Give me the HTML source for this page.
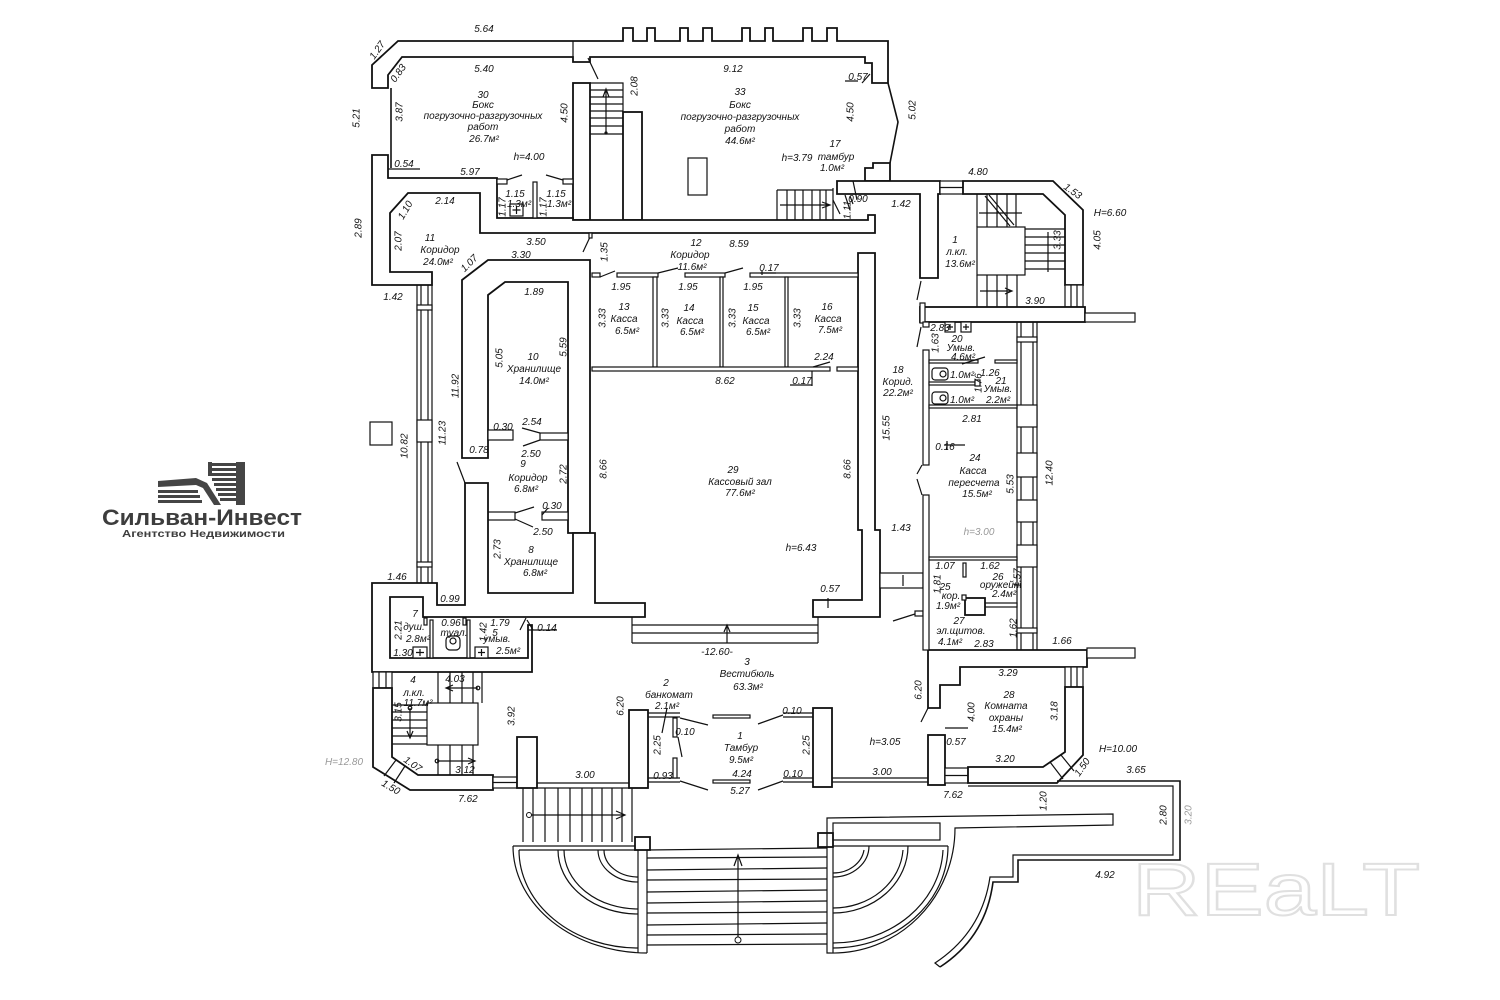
<!DOCTYPE html>
<html><head><meta charset="utf-8"><style>
html,body{margin:0;padding:0;background:#fff;}
svg{display:block}
.w{fill:#fff;stroke:#111;stroke-width:1.8;stroke-linejoin:miter}
.t{fill:#fff;stroke:#111;stroke-width:1.2}
.l{fill:none;stroke:#111;stroke-width:1.2}
.l2{fill:none;stroke:#111;stroke-width:1.6}
text{font-family:"Liberation Sans","DejaVu Sans",sans-serif;font-style:italic;font-size:10px;fill:#111;text-anchor:middle}
text.g{fill:#999}
</style></head><body>
<svg width="1500" height="1000" viewBox="0 0 1500 1000">
<rect width="1500" height="1000" fill="#fff"/>

<!-- ===== TOP WALL ===== -->
<path class="w" d="M372,65 L398,41 L623,41 L623,28 L633,28 L633,41 L647,41 L647,28 L655,28 L655,41 L680,41 L680,28 L688,28 L688,41 L703,41 L703,28 L712,28 L712,41 L742,41 L742,28 L750,28 L750,41 L765,41 L765,28 L773,28 L773,41 L803,41 L803,28 L812,28 L812,41 L827,41 L827,28 L837,28 L837,41 L888,41 L888,83 L872,83 L872,63 L865,63 L865,57 L590,57 L590,62 L573,62 L573,57 L402,57 L388,75 L388,88 L372,88 Z"/>
<line class="l" x1="573" y1="41" x2="573" y2="57"/>
<line class="l" x1="588" y1="58" x2="598" y2="79"/>
<line class="l2" x1="391" y1="88" x2="391" y2="168"/>
<line class="l" x1="382" y1="169" x2="420" y2="169"/>

<!-- room30/33 divider + stair -->
<rect class="w" x="573" y="83" width="17" height="137"/>
<rect class="w" x="623" y="112" width="19" height="108"/>
<path class="l" d="M590,83 L623,83 L623,112 M590,90 L623,90 M590,97 L623,97 M590,104 L623,104 M590,111 L623,111 M590,118 L623,118 M590,126 L623,126 M590,134 L623,134"/>
<path class="l" d="M606,133 L606,90 M603,97 L606,89 L609,97"/>
<circle cx="606" cy="133" r="1.6" fill="#111"/>

<!-- big L wall -->
<path class="w" d="M372,155 L388,155 L388,178 L497,178 L497,218 L573,218 L573,220 L868,220 L868,215 L875,215 L875,233 L480,233 L480,193 L408,193 L390,213 L390,272 L432,272 L432,285 L372,285 Z"/>
<rect class="t" x="533" y="182" width="4" height="36"/>
<rect class="t" x="497" y="179" width="10" height="5"/>
<rect class="t" x="563" y="179" width="10" height="5"/>
<path class="l" d="M507,180 L522,175 M563,180 L546,175"/>
<rect class="t" x="510" y="204" width="13" height="12"/>
<path class="l" d="M516.5,206 L516.5,214 M512.5,210 L520.5,210"/>

<!-- room 33 items -->
<rect class="t" x="688" y="158" width="19" height="37"/>
<path class="l" d="M777,190 L833,190 M777,190 L777,220 M787,190 L787,220 M795,190 L795,220 M803,190 L803,220 M812,190 L812,220 M820,190 L820,220 M826,190 L826,220 M833,188 L833,220 M780,205 L830,205 M822,202 L830,205 L822,208"/>
<path class="l" d="M833,200 L840,214 M845,195 L850,210"/>
<path class="w" d="M865,181 L865,168 L873,168 L873,163 L890,163 L890,181 Z"/>
<path class="l2" d="M888,83 L898,122 L890,163"/>
<path class="l" d="M858,81 L845,81 M862,83 L870,74"/>
<path class="w" d="M837,181 L940,181 L940,194 L938,194 L938,278 L920,278 L920,194 L837,194 Z"/>
<rect class="t" x="940" y="181" width="23" height="13"/>
<line class="l" x1="940" y1="187.5" x2="963" y2="187.5"/>
<path class="l" d="M853,181 L857,200 M850,196 L853,204"/>

<!-- right stair (л.кл. 1) -->
<path class="w" d="M963,181 L1053,181 L1083,210 L1083,285 L1065,285 L1065,215 L1043,194 L963,194 Z"/>
<rect class="t" x="1065" y="285" width="18" height="22"/>
<path class="l" d="M1071,285 L1071,307 M1077,285 L1077,307"/>
<rect class="w" x="920" y="307" width="165" height="15"/>
<rect class="t" x="1085" y="313" width="50" height="9"/>
<rect class="t" x="977" y="227" width="48" height="48"/>
<path class="l" d="M977,194 L977,227 M987,194 L987,227 M997,194 L997,227 M1007,194 L1007,227 M1016,194 L1016,227 M977,275 L977,307 M987,275 L987,307 M997,275 L997,307 M1007,275 L1007,307 M1017,275 L1017,307 M1025,229 L1065,229 M1025,237 L1065,237 M1025,245 L1065,245 M1025,253 L1065,253 M1025,261 L1065,261 M1025,269 L1065,269"/>
<path class="l" d="M985,196 L1010,226 M989,195 L1014,225 M979,213 L1022,213 M1048,232 L1048,272 M980,291 L1012,291 M1005,288 L1012,291 L1005,294"/>
<rect class="t" x="920" y="303" width="5" height="20"/>
<line class="l" x1="917" y1="300" x2="921" y2="281"/>

<!-- left window strip -->
<path class="l" d="M417,285 L417,583 M421,285 L421,583 M428,285 L428,583 M432,285 L432,583"/>
<rect class="t" x="417" y="305" width="15" height="5"/>
<rect class="t" x="417" y="420" width="15" height="22"/>
<rect class="t" x="417" y="562" width="15" height="5"/>
<rect class="t" x="370" y="422" width="22" height="23"/>

<!-- Хранилище U wall -->
<path class="w" d="M462,280 L488,260 L590,260 L590,533 L568,533 L568,282 L505,282 L488,295 L488,458 L462,458 Z"/>
<rect class="t" x="488" y="430" width="25" height="10"/>
<rect class="t" x="540" y="433" width="28" height="7"/>
<path class="l" d="M540,433 L522,428 M540,440 L523,446"/>
<rect class="t" x="488" y="512" width="27" height="8"/>
<rect class="t" x="542" y="512" width="26" height="8"/>
<path class="l" d="M515,513 L534,507 M515,519 L533,527 M542,515 L548,508"/>
<line class="l" x1="457" y1="462" x2="465" y2="483"/>
<path class="l" d="M590,237 L583,252"/>
<rect class="t" x="589" y="233" width="3" height="5"/>

<!-- central-left mass -->
<path class="w" d="M372,583 L437,583 L437,605 L465,605 L465,483 L488,483 L488,593 L573,593 L573,533 L595,533 L595,603 L645,603 L645,617 L423,617 L423,597 L390,597 L390,658 L528,658 L528,625 L532,625 L532,672 L372,672 Z"/>
<rect class="t" x="430" y="620" width="3" height="38"/>
<rect class="t" x="467" y="620" width="3" height="38"/>
<rect class="t" x="424" y="618" width="3" height="7"/>
<rect class="t" x="463" y="618" width="3" height="7"/>
<rect class="t" x="413" y="647" width="14" height="11"/>
<path class="l" d="M420,649 L420,656 M416,652.5 L424,652.5"/>
<rect class="t" x="475" y="647" width="13" height="11"/>
<path class="l" d="M481.5,649 L481.5,656 M478,652.5 L485,652.5"/>
<rect class="t" x="446" y="636" width="14" height="14" rx="4"/>
<circle cx="453" cy="641" r="3" class="l"/>
<path class="l" d="M528,630 L557,630 M527,620 L533,630 M520,630 L526,618"/>

<!-- stair 4 -->
<rect class="t" x="373" y="672" width="19" height="16"/>
<path class="l" d="M379,672 L379,688 M386,672 L386,688"/>
<path class="w" d="M373,688 L392,688 L392,757 L418,775 L493,775 L493,790 L410,790 L373,767 Z"/>
<path class="l" d="M396,760 L384,776 M405,766 L394,783"/>
<rect class="t" x="493" y="777" width="24" height="11"/>
<line class="l" x1="493" y1="782.5" x2="517" y2="782.5"/>
<rect class="w" x="517" y="737" width="20" height="51"/>
<rect class="t" x="427" y="703" width="51" height="42"/>
<path class="l" d="M438,672 L438,703 M450,672 L450,703 M462,672 L462,703 M473,672 L473,703 M482,672 L482,703 M438,745 L438,775 M450,745 L450,775 M462,745 L462,775 M473,745 L473,775 M392,705 L427,705 M392,712 L427,712 M392,720 L427,720 M392,728 L427,728 M392,736 L427,736 M392,744 L427,744"/>
<path class="l" d="M478,688 L447,688 M453,685 L446,688 L453,691 M437,761 L475,761 M468,758 L475,761 L468,764 M410,708 L410,738 M407,731 L410,738 L413,731"/>
<circle cx="478" cy="688" r="1.8" class="l"/>
<circle cx="437" cy="761" r="1.8" class="l"/>
<circle cx="410" cy="708" r="1.8" class="l"/>

<!-- vestibule bottom -->
<path class="l" d="M537,783 L630,783 M537,788 L630,788"/>
<rect class="w" x="629" y="710" width="19" height="78"/>
<path class="l" d="M648,713 L680,713 M648,717 L680,717 M648,778 L680,778 M648,782 L680,782"/>
<rect class="t" x="673" y="718" width="4" height="19"/>
<rect class="t" x="673" y="758" width="4" height="20"/>
<path class="l" d="M678,737 L682,757 M680,718 L708,725 M680,781 L708,790 M667,708 L662,733"/>
<rect class="t" x="713" y="715" width="37" height="3"/>
<rect class="t" x="713" y="780" width="37" height="3"/>
<path class="l" d="M758,724 L783,715 M758,790 L783,781 M783,713 L813,713 M783,717 L813,717 M783,778 L813,778 M783,782 L813,782"/>
<rect class="w" x="813" y="708" width="19" height="79"/>
<path class="l" d="M832,778 L928,778 M832,782 L928,782"/>
<rect class="w" x="928" y="735" width="17" height="50"/>
<rect class="t" x="945" y="768" width="23" height="15"/>
<line class="l" x1="945" y1="775.5" x2="968" y2="775.5"/>
<path class="l" d="M945,728 L968,728"/>

<!-- room 28 -->
<path class="w" d="M928,650 L1087,650 L1087,667 L960,667 L960,685 L940,685 L940,708 L928,708 Z"/>
<rect class="t" x="1087" y="648" width="48" height="10"/>
<rect class="t" x="1065" y="667" width="18" height="20"/>
<path class="l" d="M1071,667 L1071,687 M1077,667 L1077,687"/>
<path class="w" d="M1065,687 L1083,687 L1083,755 L1057,783 L968,783 L968,767 L1043,767 L1065,752 Z"/>
<path class="l" d="M1061,755 L1074,771 M1050,762 L1063,779"/>
<line class="l" x1="928" y1="708" x2="921" y2="722"/>

<!-- hall right wall -->
<path class="w" d="M858,253 L875,253 L875,530 L880,530 L880,617 L813,617 L813,600 L862,600 L862,530 L858,530 Z"/>
<line class="l" x1="828" y1="598" x2="828" y2="608"/>
<rect class="t" x="880" y="573" width="43" height="15"/>
<line class="l" x1="903" y1="575" x2="903" y2="586"/>
<path class="l" d="M893,621 L915,614"/>
<rect class="t" x="915" y="611" width="8" height="5"/>

<!-- corridor 18 right wall -->
<rect class="t" x="923" y="322" width="6" height="5"/>
<rect class="t" x="923" y="350" width="6" height="115"/>
<rect class="t" x="923" y="495" width="6" height="155"/>
<path class="l" d="M922,465 L917,474 M917,479 L922,495 M921,327 L917,347"/>

<!-- right window strip -->
<path class="l" d="M1017,322 L1017,650 M1021,322 L1021,650 M1033,322 L1033,650 M1037,322 L1037,650"/>
<rect class="t" x="1017" y="337" width="20" height="5"/>
<rect class="t" x="1017" y="405" width="20" height="22"/>
<rect class="t" x="1017" y="453" width="20" height="24"/>
<rect class="t" x="1017" y="500" width="20" height="22"/>
<rect class="t" x="1017" y="545" width="20" height="22"/>
<rect class="t" x="1017" y="628" width="20" height="5"/>

<!-- partitions right rooms -->
<rect class="t" x="929" y="360" width="49" height="3"/>
<rect class="t" x="995" y="360" width="22" height="3"/>
<rect class="t" x="929" y="382" width="46" height="3"/>
<rect class="t" x="975" y="380" width="5" height="6"/>
<rect class="t" x="929" y="405" width="88" height="3"/>
<rect class="t" x="929" y="557" width="88" height="3"/>
<rect class="t" x="985" y="603" width="32" height="4"/>
<rect class="w" x="965" y="598" width="20" height="17"/>
<rect class="t" x="963" y="563" width="3" height="14"/>
<rect class="t" x="962" y="595" width="4" height="5"/>
<rect class="t" x="945" y="322" width="10" height="10"/>
<path class="l" d="M950,324 L950,330 M947,327 L953,327"/>
<rect class="t" x="961" y="322" width="10" height="10"/>
<path class="l" d="M966,324 L966,330 M963,327 L969,327"/>
<rect class="t" x="932" y="368" width="16" height="12" rx="3"/>
<circle cx="943" cy="374" r="3" class="l"/>
<rect class="t" x="932" y="392" width="16" height="12" rx="3"/>
<circle cx="943" cy="398" r="3" class="l"/>
<path class="l" d="M962,364 L985,357 M944,445 L965,445 M947,441 L947,450"/>

<!-- kassa partitions -->
<rect class="t" x="592" y="273" width="8" height="4"/>
<rect class="t" x="617" y="273" width="41" height="4"/>
<rect class="t" x="685" y="273" width="40" height="4"/>
<rect class="t" x="750" y="273" width="108" height="4"/>
<path class="l" d="M600,277 L615,271 M658,273 L678,268 M725,273 L743,268 M760,273 L776,273 M762,271 L762,275"/>
<rect class="t" x="653" y="277" width="4" height="90"/>
<rect class="t" x="720" y="277" width="3" height="90"/>
<rect class="t" x="785" y="277" width="3" height="90"/>
<rect class="t" x="592" y="367" width="238" height="4"/>
<rect class="t" x="837" y="367" width="21" height="4"/>
<path class="l" d="M813,367 L830,362 M790,385 L812,385 M812,371 L812,386"/>

<!-- vestibule steps -->
<path class="l" d="M632,617 L632,643 M818,617 L818,643 M632,625 L818,625 M632,633 L818,633 M632,643 L818,643 M727,643 L727,627 M724,632 L727,625 L730,632"/>

<!-- outside left stair -->
<path class="l" d="M523,788 L523,842 M533,788 L533,842 M545,788 L545,842 M558,788 L558,842 M570,788 L570,842 M582,788 L582,842 M592,788 L592,842 M602,788 L602,842 M612,788 L612,842 M622,788 L622,842 M632,788 L632,842"/>
<path class="l" d="M531,815 L625,815 M616,811 L625,815 L616,819"/>
<circle cx="529" cy="815" r="2.5" fill="#fff" stroke="#111" stroke-width="1"/>

<!-- left curved steps -->
<path class="l" d="M513,846 L638,846 M519,850 L638,850"/>
<rect class="w" x="635" y="837" width="15" height="13"/>
<path class="l" d="M638,850 L638,953 M647,850 L647,953"/>
<path class="l" d="M513,846 A134,107 0 0 0 647,953"/>
<path class="l" d="M519,850 A119,98 0 0 0 638,948"/>
<path class="l" d="M558,850 A80,64 0 0 0 638,914"/>
<path class="l" d="M564,850 A74,59 0 0 0 638,909"/>
<path class="l" d="M598,850 A40,32 0 0 0 638,882"/>
<path class="l" d="M604,850 A34,27 0 0 0 638,877"/>

<!-- main steps -->
<path class="l" d="M647,850 L827,848 M647,858 L827,857 M647,870 L827,868 M647,880 L827,879 M647,892 L827,890 M647,903 L827,901 M647,913 L827,912 M647,925 L827,923 M647,935 L827,934 M647,945 L827,944"/>
<path class="l" d="M738,937 L738,856 M734,866 L738,855 L742,866"/>
<circle cx="738" cy="940" r="3" fill="#fff" stroke="#111" stroke-width="1"/>

<!-- right curved + ramp platform -->
<rect class="w" x="818" y="833" width="15" height="14"/>
<path class="l" d="M827,818 L1113,814 L1113,825 L955,828 A122,125 0 0 1 830,953 L827,953 Z"/>
<path class="l" d="M833,847 L833,953"/>
<rect class="l" x="833" y="823" width="107" height="17"/>
<path class="l" d="M833,846 L948,846"/>
<path class="l" d="M948,846 A115,102 0 0 1 833,948"/>
<path class="l" d="M943,850 A110,97 0 0 1 833,943"/>
<path class="l" d="M908,846 A75,67 0 0 1 833,913"/>
<path class="l" d="M903,850 A70,62 0 0 1 833,908"/>
<path class="l" d="M869,846 A36,31 0 0 1 833,877"/>
<path class="l" d="M864,850 A31,27 0 0 1 833,873"/>

<!-- ramp -->
<path class="l2" d="M1057,781 L1180,781 L1180,860 L1018,860 L1018,882 L993,882 Q986,937 940,967"/>
<path class="l" d="M968,786 L1173,786 L1173,855 L1013,855 L1013,877 L990,877 Q982,932 935,963 L940,967"/>

<!-- ===== LOGO ===== -->
<g fill="#454545">
<rect x="210" y="463" width="26" height="3"/>
<rect x="210" y="468" width="26" height="3"/>
<rect x="210" y="473" width="26" height="3"/>
<rect x="212" y="478" width="24" height="3"/>
<rect x="214" y="483" width="22" height="3"/>
<rect x="216" y="488" width="20" height="3"/>
<rect x="218" y="493" width="18" height="3"/>
<rect x="220" y="498" width="16" height="3"/>
<rect x="236" y="462" width="9" height="43"/>
<rect x="208" y="462" width="4" height="14"/>
<polygon points="158,481 196,478 207,483 221,505 214,505 203,488 196,485 158,487"/>
<rect x="158" y="490" width="40" height="3"/>
<rect x="158" y="495" width="42" height="3"/>
<rect x="158" y="500" width="44" height="3"/>
</g>
<text x="102" y="525" textLength="200" lengthAdjust="spacingAndGlyphs" style="font-size:22px;font-weight:bold;font-style:normal;fill:#3d3d3d;text-anchor:start">Сильван-Инвест</text>
<text x="122" y="537" textLength="163" lengthAdjust="spacingAndGlyphs" style="font-size:10px;font-weight:bold;font-style:normal;fill:#3d3d3d;text-anchor:start">Агентство Недвижимости</text>

<!-- REALT watermark -->
<text x="1132" y="915" textLength="288" lengthAdjust="spacingAndGlyphs" style="font-size:74px;font-style:normal;fill:none;stroke:#e0e0e0;stroke-width:2;text-anchor:start">REaLT</text>

<!-- ===== LABELS ===== -->
<g>
<text x="484" y="32">5.64</text>
<text transform="translate(377,50) rotate(-55)" y="3.5">1.27</text>
<text transform="translate(398,73) rotate(-55)" y="3.5">0.83</text>
<text x="484" y="72">5.40</text>
<text x="733" y="72">9.12</text>
<text x="858" y="80">0.57</text>
<text transform="translate(634,86) rotate(-90)" y="3.5">2.08</text>
<text transform="translate(356,118) rotate(-90)" y="3.5">5.21</text>
<text transform="translate(399,112) rotate(-90)" y="3.5">3.87</text>
<text x="483" y="98">30</text>
<text x="483" y="108">Бокс</text>
<text x="483" y="119">погрузочно-разгрузочных</text>
<text x="483" y="130">работ</text>
<text x="484" y="142">26.7м²</text>
<text transform="translate(564,113) rotate(-90)" y="3.5">4.50</text>
<text x="740" y="95">33</text>
<text x="740" y="108">Бокс</text>
<text x="740" y="120">погрузочно-разгрузочных</text>
<text x="740" y="132">работ</text>
<text x="740" y="144">44.6м²</text>
<text transform="translate(850,112) rotate(-90)" y="3.5">4.50</text>
<text transform="translate(912,110) rotate(-90)" y="3.5">5.02</text>
<text x="529" y="160">h=4.00</text>
<text x="797" y="161">h=3.79</text>
<text x="835" y="147">17</text>
<text x="836" y="160">тамбур</text>
<text x="832" y="171">1.0м²</text>
<text x="404" y="167">0.54</text>
<text x="470" y="175">5.97</text>
<text x="515" y="197">1.15</text>
<text x="519" y="207">1.3м²</text>
<text x="556" y="197">1.15</text>
<text x="559" y="207">1.3м²</text>
<text transform="translate(502,207) rotate(-90)" y="3.5">1.17</text>
<text transform="translate(543,207) rotate(-90)" y="3.5">1.17</text>
<text x="858" y="202">0.90</text>
<text transform="translate(847,210) rotate(-90)" y="3.5">1.11</text>
<text x="901" y="207">1.42</text>
<text x="978" y="175">4.80</text>
<text transform="translate(1073,191) rotate(35)" y="3.5">1.53</text>
<text x="1110" y="216">H=6.60</text>
<text x="445" y="204">2.14</text>
<text transform="translate(405,210) rotate(-60)" y="3.5">1.10</text>
<text transform="translate(358,228) rotate(-90)" y="3.5">2.89</text>
<text transform="translate(398,241) rotate(-90)" y="3.5">2.07</text>
<text x="430" y="241">11</text>
<text x="440" y="253">Коридор</text>
<text x="438" y="265">24.0м²</text>
<text x="536" y="245">3.50</text>
<text x="521" y="258">3.30</text>
<text transform="translate(604,252) rotate(-90)" y="3.5">1.35</text>
<text x="696" y="246">12</text>
<text x="690" y="258">Коридор</text>
<text x="692" y="270">11.6м²</text>
<text x="739" y="247">8.59</text>
<text transform="translate(469,263) rotate(-45)" y="3.5">1.07</text>
<text x="769" y="271">0.17</text>
<text x="955" y="243">1</text>
<text x="957" y="255">л.кл.</text>
<text x="960" y="267">13.6м²</text>
<text transform="translate(1057,240) rotate(-90)" y="3.5">3.33</text>
<text transform="translate(1097,240) rotate(-90)" y="3.5">4.05</text>
<text x="393" y="300">1.42</text>
<text x="534" y="295">1.89</text>
<text x="621" y="290">1.95</text>
<text x="688" y="290">1.95</text>
<text x="753" y="290">1.95</text>
<text x="1035" y="304">3.90</text>
<text transform="translate(602,318) rotate(-90)" y="3.5">3.33</text>
<text x="624" y="310">13</text>
<text x="624" y="322">Касса</text>
<text x="627" y="334">6.5м²</text>
<text transform="translate(665,318) rotate(-90)" y="3.5">3.33</text>
<text x="689" y="311">14</text>
<text x="690" y="324">Касса</text>
<text x="692" y="335">6.5м²</text>
<text transform="translate(732,318) rotate(-90)" y="3.5">3.33</text>
<text x="753" y="311">15</text>
<text x="756" y="324">Касса</text>
<text x="758" y="335">6.5м²</text>
<text transform="translate(797,318) rotate(-90)" y="3.5">3.33</text>
<text x="827" y="310">16</text>
<text x="828" y="322">Касса</text>
<text x="830" y="333">7.5м²</text>
<text x="940" y="331">2.83</text>
<text x="957" y="342">20</text>
<text x="961" y="351">Умыв.</text>
<text x="963" y="360">4.6м²</text>
<text transform="translate(935,343) rotate(-90)" y="3.5">1.63</text>
<text transform="translate(499,358) rotate(-90)" y="3.5">5.05</text>
<text transform="translate(563,347) rotate(-90)" y="3.5">5.59</text>
<text x="533" y="360">10</text>
<text x="534" y="372">Хранилище</text>
<text x="534" y="384">14.0м²</text>
<text x="824" y="360">2.24</text>
<text x="725" y="384">8.62</text>
<text x="802" y="384">0.17</text>
<text x="898" y="373">18</text>
<text x="898" y="385">Корид.</text>
<text x="898" y="396">22.2м²</text>
<text x="990" y="376">1.26</text>
<text x="1001" y="384">21</text>
<text x="998" y="392">Умыв.</text>
<text x="998" y="403">2.2м²</text>
<text x="962" y="378">1.0м²</text>
<text x="962" y="403">1.0м²</text>
<text transform="translate(978,383) rotate(-90)" y="3.5">1.76</text>
<text transform="translate(455,386) rotate(-90)" y="3.5">11.92</text>
<text x="972" y="422">2.81</text>
<text x="503" y="430">0.30</text>
<text x="532" y="425">2.54</text>
<text transform="translate(404,446) rotate(-90)" y="3.5">10.82</text>
<text transform="translate(442,433) rotate(-90)" y="3.5">11.23</text>
<text x="945" y="450">0.16</text>
<text x="531" y="457">2.50</text>
<text x="479" y="453">0.78</text>
<text transform="translate(886,428) rotate(-90)" y="3.5">15.55</text>
<text transform="translate(603,469) rotate(-90)" y="3.5">8.66</text>
<text transform="translate(847,469) rotate(-90)" y="3.5">8.66</text>
<text transform="translate(1049,473) rotate(-90)" y="3.5">12.40</text>
<text x="523" y="467">9</text>
<text x="528" y="481">Коридор</text>
<text x="526" y="492">6.8м²</text>
<text transform="translate(563,474) rotate(-90)" y="3.5">2.72</text>
<text x="733" y="473">29</text>
<text x="740" y="485">Кассовый зал</text>
<text x="740" y="496">77.6м²</text>
<text x="975" y="461">24</text>
<text x="973" y="474">Касса</text>
<text x="974" y="486">пересчета</text>
<text x="977" y="497">15.5м²</text>
<text transform="translate(1010,484) rotate(-90)" y="3.5">5.53</text>
<text x="552" y="509">0.30</text>
<text x="543" y="535">2.50</text>
<text x="901" y="531">1.43</text>
<text x="979" y="535" class="g">h=3.00</text>
<text x="531" y="553">8</text>
<text x="531" y="565">Хранилище</text>
<text x="535" y="576">6.8м²</text>
<text transform="translate(497,549) rotate(-90)" y="3.5">2.73</text>
<text x="801" y="551">h=6.43</text>
<text x="945" y="569">1.07</text>
<text x="990" y="569">1.62</text>
<text x="998" y="580">26</text>
<text x="1001" y="588">оружейн.</text>
<text x="1004" y="597">2.4м²</text>
<text transform="translate(1017,578) rotate(-90)" y="3.5">1.57</text>
<text transform="translate(937,584) rotate(-90)" y="3.5">1.81</text>
<text x="945" y="590">25</text>
<text x="951" y="599">кор.</text>
<text x="948" y="609">1.9м²</text>
<text x="830" y="592">0.57</text>
<text x="397" y="580">1.46</text>
<text x="450" y="602">0.99</text>
<text x="959" y="624">27</text>
<text x="961" y="634">эл.щитов.</text>
<text x="950" y="645">4.1м²</text>
<text x="984" y="647">2.83</text>
<text transform="translate(1013,628) rotate(-90)" y="3.5">1.62</text>
<text x="1062" y="644">1.66</text>
<text x="415" y="617">7</text>
<text transform="translate(398,630) rotate(-90)" y="3.5">2.21</text>
<text x="414" y="630">душ.</text>
<text x="418" y="642">2.8м²</text>
<text x="451" y="626">0.96</text>
<text x="454" y="636">туал.</text>
<text transform="translate(483,632) rotate(-90)" y="3.5">1.42</text>
<text x="500" y="626">1.79</text>
<text x="495" y="636">5</text>
<text x="497" y="642">умыв.</text>
<text x="508" y="654">2.5м²</text>
<text x="403" y="656">1.30</text>
<text x="547" y="631">0.14</text>
<text x="717" y="655">-12.60-</text>
<text x="747" y="665">3</text>
<text x="747" y="677">Вестибюль</text>
<text x="748" y="690">63.3м²</text>
<text x="1008" y="676">3.29</text>
<text x="413" y="683">4</text>
<text x="414" y="696">л.кл.</text>
<text x="418" y="706">11.7м²</text>
<text x="455" y="682">4.03</text>
<text x="666" y="686">2</text>
<text x="669" y="698">банкомат</text>
<text x="667" y="709">2.1м²</text>
<text transform="translate(620,706) rotate(-90)" y="3.5">6.20</text>
<text transform="translate(918,690) rotate(-90)" y="3.5">6.20</text>
<text x="792" y="714">0.10</text>
<text transform="translate(971,712) rotate(-90)" y="3.5">4.00</text>
<text transform="translate(1054,711) rotate(-90)" y="3.5">3.18</text>
<text x="1009" y="698">28</text>
<text x="1006" y="709">Комната</text>
<text x="1006" y="721">охраны</text>
<text x="1007" y="732">15.4м²</text>
<text transform="translate(511,716) rotate(-90)" y="3.5">3.92</text>
<text transform="translate(398,712) rotate(-90)" y="3.5">3.15</text>
<text x="685" y="735">0.10</text>
<text x="740" y="739">1</text>
<text x="741" y="751">Тамбур</text>
<text x="741" y="763">9.5м²</text>
<text transform="translate(657,745) rotate(-90)" y="3.5">2.25</text>
<text transform="translate(806,745) rotate(-90)" y="3.5">2.25</text>
<text x="885" y="745">h=3.05</text>
<text x="956" y="745">0.57</text>
<text x="1118" y="752">H=10.00</text>
<text x="344" y="765" class="g">H=12.80</text>
<text transform="translate(413,764) rotate(35)" y="3.5">1.07</text>
<text x="465" y="773">3.12</text>
<text x="1005" y="762">3.20</text>
<text transform="translate(1082,767) rotate(-55)" y="3.5">1.50</text>
<text x="585" y="778">3.00</text>
<text x="663" y="779">0.93</text>
<text x="742" y="777">4.24</text>
<text x="793" y="777">0.10</text>
<text x="882" y="775">3.00</text>
<text x="1136" y="773">3.65</text>
<text transform="translate(391,787) rotate(30)" y="3.5">1.50</text>
<text x="740" y="794">5.27</text>
<text x="468" y="802">7.62</text>
<text x="953" y="798">7.62</text>
<text transform="translate(1043,801) rotate(-90)" y="3.5">1.20</text>
<text transform="translate(1163,815) rotate(-90)" y="3.5">2.80</text>
<text transform="translate(1188,815) rotate(-90)" y="3.5" class="g">3.20</text>
<text x="1105" y="878">4.92</text>
</g>
</svg>
</body></html>
